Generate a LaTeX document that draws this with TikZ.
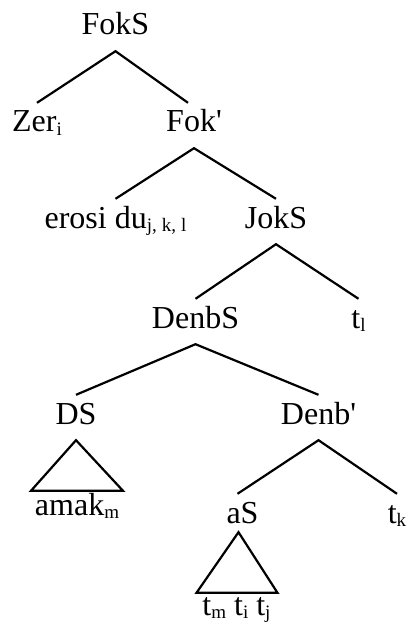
\documentclass[tikz,border=0pt]{standalone}
\usepackage{fontspec}
\setmainfont{Liberation Serif}
\newcommand\subidx[1]{\raisebox{-3.5pt}{\fontsize{19}{19}\selectfont #1}}
\begin{document}
\begin{tikzpicture}[x=1pt,y=-1pt,
  lbl/.style={anchor=base,inner xsep=0pt,inner ysep=8pt,
    text height=21pt,text depth=8pt,font=\fontsize{32}{38}\selectfont},
  branch/.style={line width=2.2pt},
  tri/.style={line width=2.2pt,line join=miter}]
\useasboundingbox (0,0) rectangle (407,631);

% node labels (placed at their baselines)
\node[lbl] (FokS)  at (115.5,35)  {FokS};
\node[lbl] (Zer)   at (37,132)    {Zer\subidx{i}};
\node[lbl] (Fokp)  at (194,132)   {Fok\textquotesingle};
\node[lbl] (erosi) at (115.5,228) {erosi du\subidx{j,\hspace{5pt}k,\hspace{5pt}l}};
\node[lbl] (JokS)  at (276,228)   {JokS};
\node[lbl] (DenbS) at (195.5,328) {DenbS};
\node[lbl] (tl)    at (358.5,328) {t\subidx{l}};
\node[lbl] (DS)    at (76,424)    {DS};
\node[lbl] (Denbp) at (318.5,424) {Denb\textquotesingle};
\node[lbl] (amak)  at (77,515)    {amak\subidx{m}};
\node[lbl] (aS)    at (242.5,523) {aS};
\node[lbl] (tk)    at (397,523)   {t\subidx{k}};
\node[lbl] (tt)    at (236.5,615) {t\subidx{m} t\subidx{i} t\subidx{j}};

% branches
\draw[branch] (Zer.north) -- (FokS.south) -- ([xshift=-6pt]Fokp.north);
\draw[branch] (erosi.north) -- (Fokp.south) -- (JokS.north);
\draw[branch] (DenbS.north) -- (JokS.south) -- (tl.north);
\draw[branch] (DS.north) -- (DenbS.south) -- (Denbp.north);
\draw[branch] ([xshift=-5pt]aS.north) -- (Denbp.south) -- (tk.north);

% triangles over unanalysed constituents
\draw[tri] (DS.south) -- ([shift={(-46pt,-5pt)}]amak.north)
  -- ([shift={(46pt,-5pt)}]amak.north) -- cycle;
\draw[tri] ([shift={(-4pt,7pt)}]aS.south) -- ([shift={(-40pt,-7pt)}]tt.north)
  -- ([shift={(41pt,-7pt)}]tt.north) -- cycle;
\end{tikzpicture}
\end{document}
